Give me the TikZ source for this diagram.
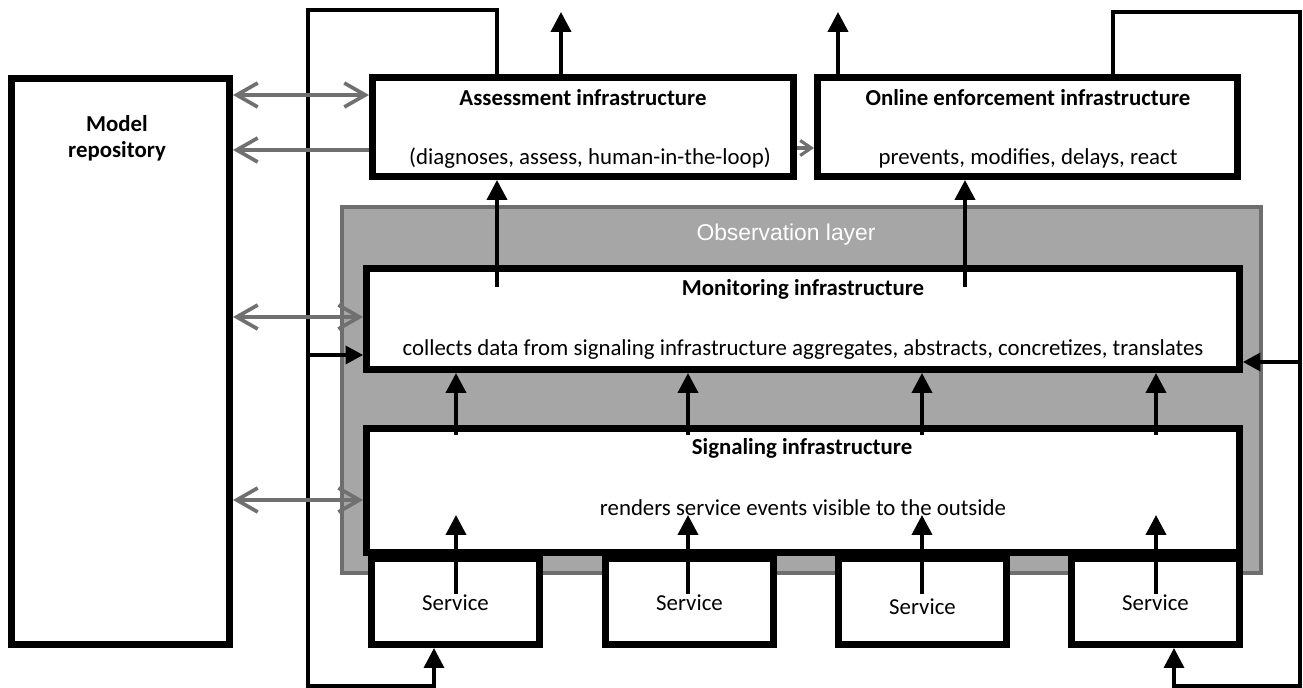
\documentclass[tikz,border=0pt]{standalone}
\usepackage{fontspec}
\setmainfont{Carlito}
\newfontfamily\arialfont{Liberation Sans}
\usetikzlibrary{arrows.meta}
\definecolor{layergray}{HTML}{A6A6A6}
\definecolor{layeredge}{HTML}{6E6E6E}
\definecolor{linkgray}{HTML}{707070}
\begin{document}
\begin{tikzpicture}[x=0.02cm,y=-0.02cm,
    block/.style={draw,line width=4pt,fill=white,inner sep=0pt},
    title/.style={font=\fontsize{13}{15}\selectfont\bfseries},
    body/.style={font=\fontsize{13}{15}\selectfont},
    loopline/.style={line width=2pt},
    up/.style={line width=2.2pt,-{Triangle[length=0.4cm,width=0.4cm]}},
    link/.style={draw=linkgray,line width=2.1pt,{Straight Barb[length=0.42cm,width=0.48cm]}-{Straight Barb[length=0.42cm,width=0.48cm]}},
    tolink/.style={draw=linkgray,line width=2.1pt,-{Straight Barb[length=0.42cm,width=0.48cm]}}]
    \useasboundingbox (0,0) rectangle (1303,688);
    \node[draw=layeredge,line width=2.2pt,fill=layergray,inner sep=0pt,minimum width=18.38cm,minimum height=7.32cm] (layer) at (801.5,390) {};
    \node[text=white,font=\arialfont\fontsize{13}{15}\selectfont] (layertext) at (786,235) {Observation layer};
    \node[block,minimum width=4.36cm,minimum height=11.32cm] (repo) at (120.5,361.5) {};
    \node[block,minimum width=8.42cm,minimum height=1.98cm] (assess) at (583,127) {};
    \node[block,minimum width=8.40cm,minimum height=1.98cm] (enforce) at (1027.5,127) {};
    \node[block,minimum width=17.46cm,minimum height=2.02cm] (monitor) at (803,319) {};
    \node[block,minimum width=17.46cm,minimum height=2.48cm] (signal) at (803,490.5) {};
    \foreach \x/\n/\ty in {455.5/1/603,689.5/2/603,922.5/3/607,1155.5/4/603} {
        \node[block,minimum width=3.36cm,minimum height=1.72cm] (svc\n) at (\x,601.5) {};
        \node[body] (svctext\n) at (\x,\ty) {Service};
    }
    \node[title,align=center] (repotext) at (117,138) {Model\\repository};
    \node[title] (assesstitle) at (583,98) {Assessment infrastructure};
    \node[body] (assessbody) at (590,158) {(diagnoses, assess, human-in-the-loop)};
    \node[title] (enforcetitle) at (1028,98) {Online enforcement infrastructure};
    \node[body] (enforcebody) at (1028,158) {prevents, modifies, delays, react};
    \node[title] (monitortitle) at (803,289) {Monitoring infrastructure};
    \node[body] (monitorbody) at (803,350) {collects data from signaling infrastructure aggregates, abstracts, concretizes, translates};
    \node[title] (signaltitle) at (802,448) {Signaling infrastructure};
    \node[body] (signalbody) at (803,508) {renders service events visible to the outside};
    \coordinate (assessout) at (561,12);
    \coordinate (enforceout) at (838,12);
    \coordinate (mleft) at (497,287);
    \coordinate (mright) at (965,287);
    \coordinate (lbranch) at (308,355);
    \coordinate (rbranch) at (1300,362);
    \draw[loopline,-{Triangle[length=0.4cm,width=0.4cm]}] (assess.north -| mleft) |- (308,10) -- (308,686) -| (svc1.south -| 434,0);
    \draw[loopline,-{Triangle[length=0.4cm,width=0.4cm]}] (enforce.north -| 1113,0) |- (1300,12) -- (1300,686) -| (svc4.south -| 1174,0);
    \draw[loopline,-{Triangle[length=0.35cm,width=0.36cm]}] (lbranch) -- (monitor.west |- lbranch);
    \draw[loopline,-{Triangle[length=0.35cm,width=0.36cm]}] (rbranch) -- (monitor.east |- rbranch);
    \draw[up] (assess.north -| assessout) -- (assessout);
    \draw[up] (enforce.north -| enforceout) -- (enforceout);
    \draw[up] (mleft) -- (assess.south -| mleft);
    \draw[up] (mright) -- (enforce.south -| mright);
    \foreach \x/\n in {456/1,688/2,922/3,1156/4} {
        \coordinate (sig\n) at (\x,435);
        \coordinate (svcin\n) at (\x,594);
        \coordinate (svcout\n) at (\x,515);
        \draw[up] (svcin\n) -- (svcout\n);
        \draw[up] (sig\n) -- (monitor.south -| sig\n);
    }
    \draw[link] (repo.east |- 0,95) -- (assess.west |- 0,95);
    \draw[tolink] (assess.west |- 0,150) -- (repo.east |- 0,150);
    \draw[draw=linkgray,line width=1.8pt,-{Straight Barb[length=0.22cm,width=0.3cm]}] (assess.east |- 0,148) -- (enforce.west |- 0,148);
    \draw[link] (repo.east |- 0,317) -- (monitor.west |- 0,317);
    \draw[link] (repo.east |- 0,500) -- (signal.west |- 0,500);
\end{tikzpicture}
\end{document}
